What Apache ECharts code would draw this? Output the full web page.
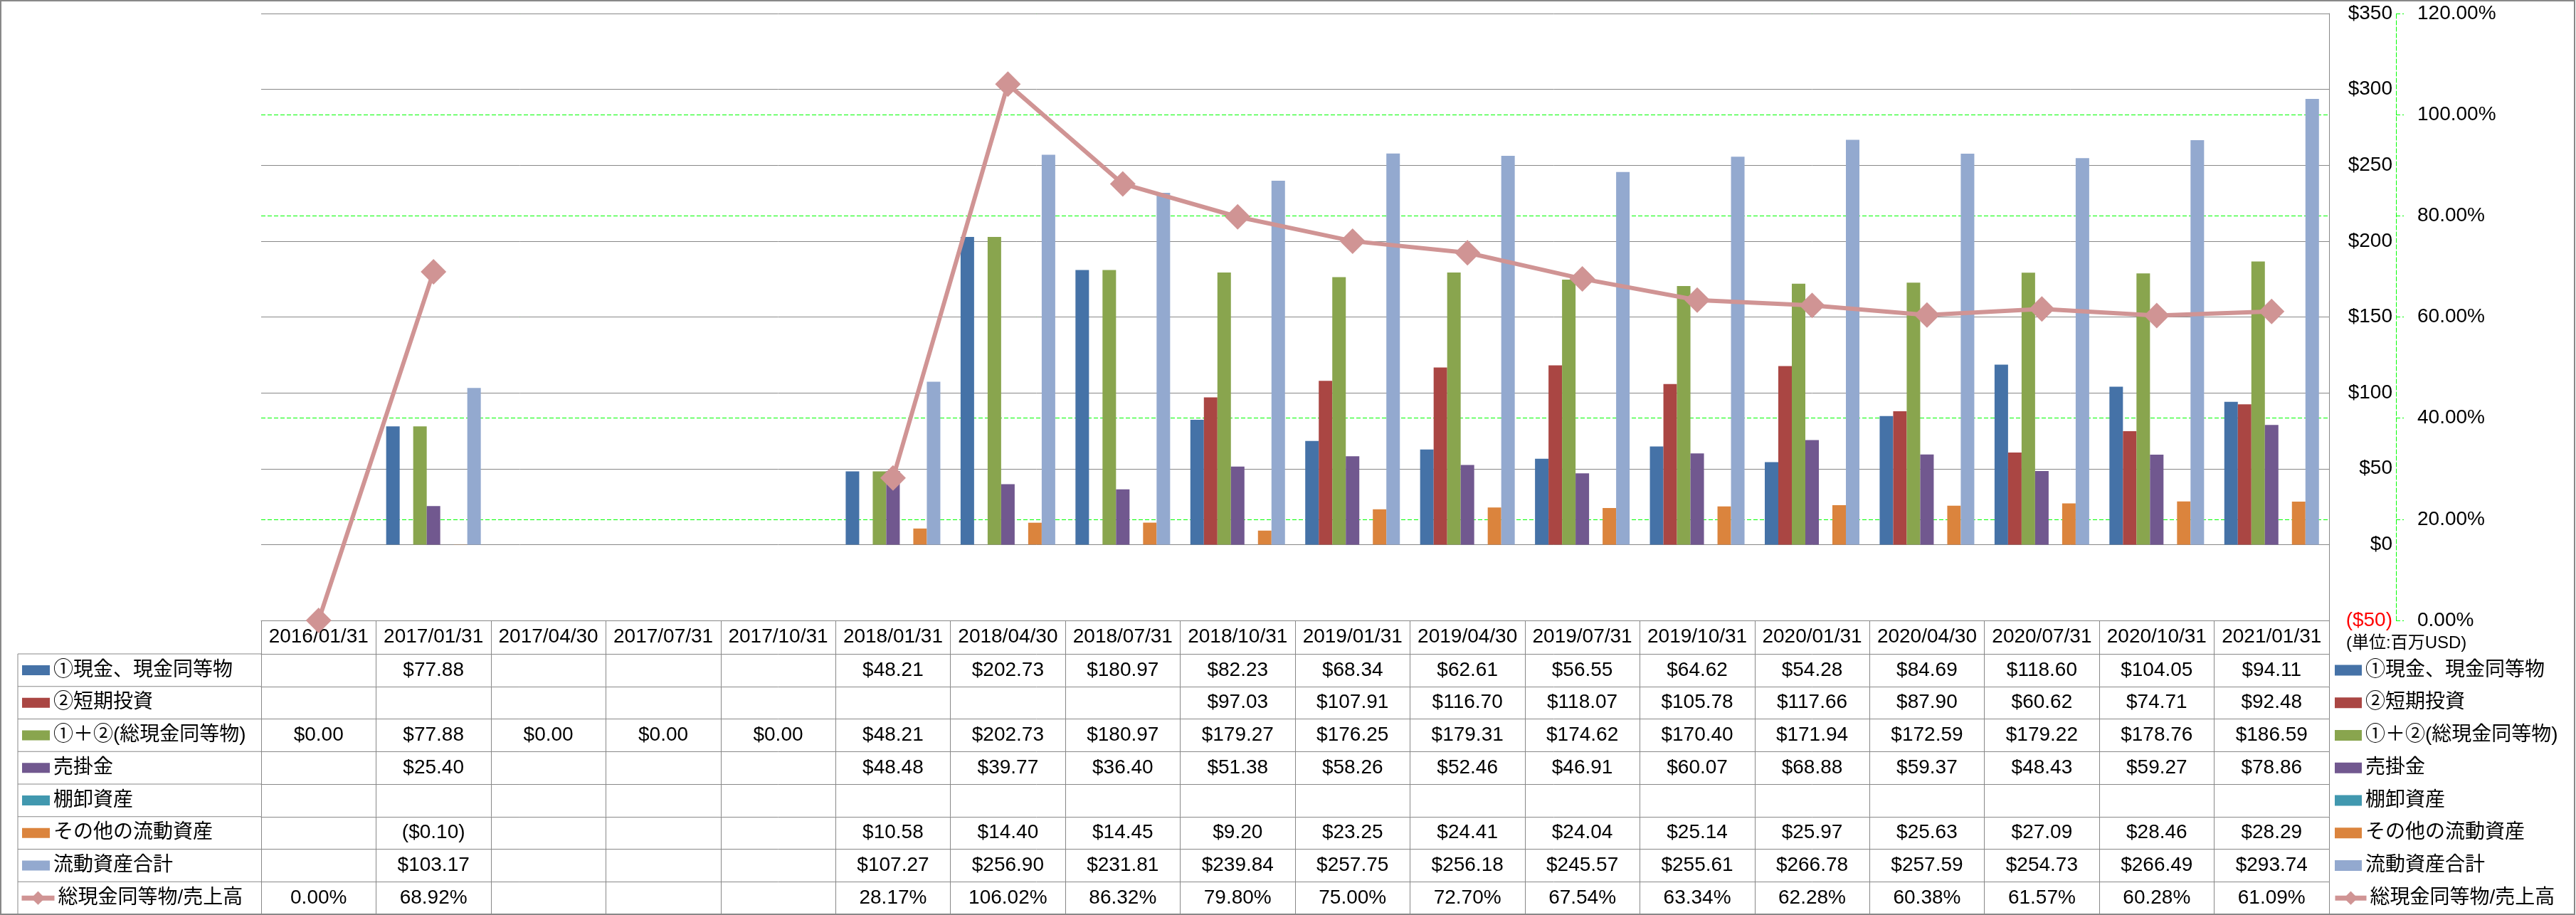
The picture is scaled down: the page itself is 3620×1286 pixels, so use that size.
<!DOCTYPE html>
<html>
<head>
<meta charset="utf-8">
<script src="https://cdn.jsdelivr.net/npm/echarts@6/dist/echarts.min.js"></script>
<style>
html,body{margin:0;padding:0;background:#fff;}
#chart{width:3620px;height:1286px;}
</style>
</head>
<body>
<div id="chart"></div>
<script>
// ---- data ----
const categories = ['2016/01/31','2017/01/31','2017/04/30','2017/07/31','2017/10/31','2018/01/31','2018/04/30','2018/07/31','2018/10/31','2019/01/31','2019/04/30','2019/07/31','2019/10/31','2020/01/31','2020/04/30','2020/07/31','2020/10/31','2021/01/31'];
const seriesNames = ['①現金、現金同等物','②短期投資','①＋②(総現金同等物)','売掛金','棚卸資産','その他の流動資産','流動資産合計','総現金同等物/売上高'];
const cash = [null,77.88,null,null,null,48.21,202.73,180.97,82.23,68.34,62.61,56.55,64.62,54.28,84.69,118.60,104.05,94.11];
const shortInv = [null,null,null,null,null,null,null,null,97.03,107.91,116.70,118.07,105.78,117.66,87.90,60.62,74.71,92.48];
const totalCash = [0,77.88,0,0,0,48.21,202.73,180.97,179.27,176.25,179.31,174.62,170.40,171.94,172.59,179.22,178.76,186.59];
const receivables = [null,25.40,null,null,null,48.48,39.77,36.40,51.38,58.26,52.46,46.91,60.07,68.88,59.37,48.43,59.27,78.86];
const inventory = [null,null,null,null,null,null,null,null,null,null,null,null,null,null,null,null,null,null];
const otherCur = [null,-0.10,null,null,null,10.58,14.40,14.45,9.20,23.25,24.41,24.04,25.14,25.97,25.63,27.09,28.46,28.29];
const curTotal = [null,103.17,null,null,null,107.27,256.90,231.81,239.84,257.75,256.18,245.57,255.61,266.78,257.59,254.73,266.49,293.74];
const cashRatio = [0.00,68.92,null,null,null,28.17,106.02,86.32,79.80,75.00,72.70,67.54,63.34,62.28,60.38,61.57,60.28,61.09];
const dollarTicks = {min:-50, max:350, interval:50};
const pctTicks = {min:0, max:120, interval:20};
const unitLabel = '(単位:百万USD)';

// ---- styles / layout ----
const colors = ['#4572A7','#AA4643','#89A54E','#71588F','#4198AF','#DB843D','#93A9CF','#D09494'];
const FONT = "'Liberation Sans','Noto Sans CJK JP',sans-serif";
const GRAY = '#888888';
const GREEN = '#00FF00';
const W = 3620, H = 1286;
const gridL = 367, gridR = 3273, gridT = 19, gridB = 872;
const headerH = 47, rowH = 45.75;

const barData = [cash, shortInv, totalCash, receivables, inventory, otherCur, curTotal];
const fmtMoney = v => (v === null || v === undefined) ? '' : (v < 0 ? '($' + (-v).toFixed(2) + ')' : '$' + v.toFixed(2));
const fmtPct = v => (v === null || v === undefined) ? '' : v.toFixed(2) + '%';
const rowStrings = barData.map(arr => arr.map(fmtMoney)).concat([cashRatio.map(fmtPct)]);

// x axes: header + table rows
const xAxes = [{
  type:'category', data: categories, gridIndex:0, position:'bottom', offset:0, z:6,
  axisLine:{show:true, onZero:false, lineStyle:{color:GRAY, width:1}},
  axisTick:{show:true, interval:0, alignWithLabel:false, length:headerH, lineStyle:{color:GRAY, width:1}},
  axisLabel:{show:true, interval:0, margin:headerH/2, verticalAlign:'middle', color:'#000', fontSize:28, fontFamily:FONT},
  splitLine:{show:false}
}];
rowStrings.forEach((strs, r) => {
  xAxes.push({
    type:'category', data: categories, gridIndex:0, position:'bottom', offset: headerH + r*rowH, z:6,
    axisLine:{show:true, onZero:false, lineStyle:{color:GRAY, width:1}},
    axisTick:{show:true, interval:0, alignWithLabel:false, length:rowH, lineStyle:{color:GRAY, width:1}},
    axisLabel:{show:true, interval:0, margin:rowH/2, verticalAlign:'middle', color:'#000', fontSize:28, fontFamily:FONT,
      formatter:(val, idx) => strs[idx]},
    splitLine:{show:false}
  });
});

const series = barData.map((arr, i) => ({
  name: seriesNames[i], type:'bar', xAxisIndex:0, yAxisIndex:0, data: arr, z:8,
  barWidth:19, barGap:'0%', itemStyle:{color:colors[i]}
}));
series.push({
  name: seriesNames[7], type:'line', xAxisIndex:0, yAxisIndex:1, data: cashRatio,
  symbol:'diamond', symbolSize:36, connectNulls:false, z:10,
  lineStyle:{color:colors[7], width:6}, itemStyle:{color:colors[7]}
});

// legends: one per row in the table's left column, and one per row at the right
const legends = [];
seriesNames.forEach((name, i) => {
  const cy = gridB + headerH + rowH*i + rowH/2;
  const isLine = i === 7;
  const item = isLine ? {name} : {name, icon:'rect'};
  const common = {data:[item], padding:0, selectedMode:false, itemGap:4,
    textStyle:{fontSize:28, fontFamily:FONT, color:'#000', lineHeight:32}};
  if (isLine) {
    legends.push(Object.assign({left:27, top:cy-16, itemWidth:46, itemHeight:24, lineStyle:{width:7}}, common));
    legends.push(Object.assign({left:3278, top:cy-16, itemWidth:44, itemHeight:24, lineStyle:{width:7}}, common));
  } else {
    legends.push(Object.assign({left:31, top:cy-16, itemWidth:39, itemHeight:14}, common));
    legends.push(Object.assign({left:3281, top:cy-16, itemWidth:38, itemHeight:15}, common));
  }
});

// table frame for the left label column + outer border
const graphics = [{type:'rect', shape:{x:1, y:1, width:W-3, height:H-2}, style:{fill:null, stroke:GRAY, lineWidth:2}, silent:true}];
for (let r = 0; r <= 8; r++) {
  const y = gridB + headerH + r*rowH;
  graphics.push({type:'line', shape:{x1:25, y1:y, x2:gridL, y2:y}, style:{stroke:GRAY, lineWidth:1}, silent:true});
}
graphics.push({type:'line', shape:{x1:25, y1:gridB+headerH, x2:25, y2:H}, style:{stroke:GRAY, lineWidth:1}, silent:true});

const option = {
  animation:false,
  backgroundColor:'#fff',
  title:{text:unitLabel, left:3297, top:892, padding:0, textStyle:{fontSize:24, fontWeight:'normal', fontFamily:FONT, color:'#000'}},
  grid:{left:gridL, right:W-gridR, top:gridT, bottom:H-gridB, containLabel:false},
  legend: legends,
  xAxis: xAxes,
  yAxis: [{
    type:'value', position:'right', min:dollarTicks.min, max:dollarTicks.max, interval:dollarTicks.interval, z:5,
    axisLine:{show:true, lineStyle:{color:GRAY, width:1}},
    axisTick:{show:false},
    axisLabel:{align:'right', margin:89, fontSize:28, fontFamily:FONT,
      color: v => (v < 0 ? '#FF0000' : '#000'),
      formatter: v => v < 0 ? '($' + (-v) + ')' : '$' + v},
    splitLine:{show:true, lineStyle:{color:GRAY, width:1}}
  },{
    type:'value', position:'right', offset:94, min:pctTicks.min, max:pctTicks.max, interval:pctTicks.interval, z:0,
    axisLine:{show:true, lineStyle:{color:GREEN, width:1, type:[6,3]}},
    axisTick:{show:true, inside:false, length:11, lineStyle:{color:GREEN, width:1, type:[6,3]}},
    axisLabel:{align:'left', margin:30, fontSize:28, fontFamily:FONT, color:'#000',
      formatter: v => v.toFixed(2) + '%'},
    splitLine:{show:true, lineStyle:{color:GREEN, width:1, type:[6,3]}}
  }],
  series: series,
  graphic: graphics
};

const chart = echarts.init(document.getElementById('chart'), null, {renderer:'canvas'});
chart.setOption(option);
</script>
</body>
</html>
